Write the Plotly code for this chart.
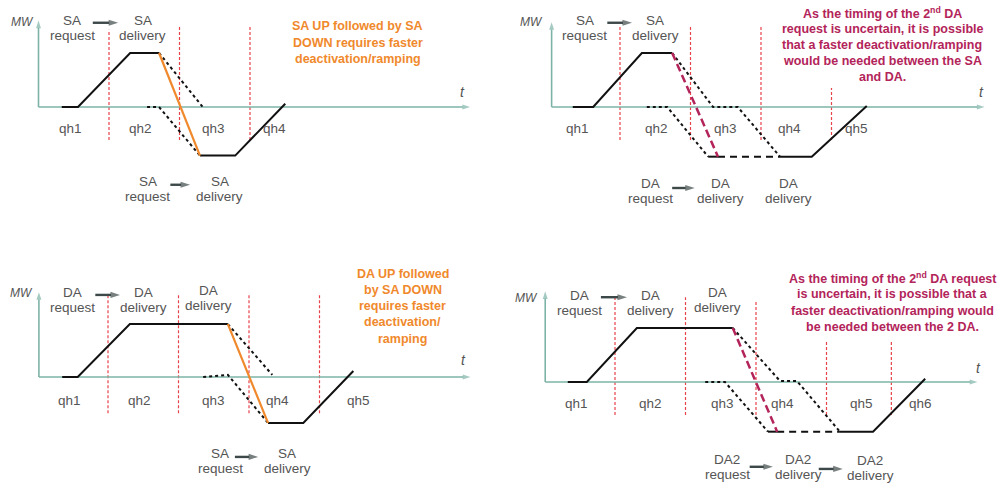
import plotly.graph_objects as go

# ======================= DATA (time in quarter-hours, power in MW units) =======================
# Panel 1 : SA UP followed by SA DOWN
p1_bounds = [1, 2, 3]
p1_bound_top = [1.43, 1.52, 1.52]
p1_bound_bot = [-0.61, -0.61, -0.61]
p1_qh = ["qh1", "qh2", "qh3", "qh4"]
p1_qh_t = [0.45, 1.44, 2.48, 3.35]
p1_solid_t = [0.33, 0.56, 1.30, 1.71]
p1_solid_mw = [0, 0, 1.0, 1.0]
p1_fast_t = [1.71, 2.29]
p1_fast_mw = [1.0, -0.9]
p1_end_t = [2.29, 2.79, 3.50]
p1_end_mw = [-0.9, -0.9, 0.06]
p1_dotA_t = [1.71, 2.33]
p1_dotA_mw = [1.0, 0.0]
p1_dotB_t = [1.54, 1.71, 2.29]
p1_dotB_mw = [0.0, 0.0, -0.9]
p1_note = ["SA UP followed by SA", "DOWN requires faster", "deactivation/ramping"]
p1_labels = [["SA", "request"], ["SA", "delivery"], ["SA", "request"], ["SA", "delivery"]]
p1_label_t = [0.48, 1.48, 1.55, 2.57]
p1_label_mw = [1.47, 1.47, -1.51, -1.51]
p1_arrow_t0 = [0.77, 1.87]
p1_arrow_t1 = [1.13, 2.15]
p1_arrow_mw = [1.56, -1.44]

# Panel 2 : SA then uncertain DA
p2_bounds = [1, 2, 3, 4]
p2_bound_top = [1.52, 1.52, 1.52, 0.35]
p2_bound_bot = [-0.61, -0.61, -0.61, -0.61]
p2_qh = ["qh1", "qh2", "qh3", "qh4", "qh5"]
p2_qh_t = [0.39, 1.52, 2.49, 3.41, 4.36]
p2_solid_t = [0.33, 0.62, 1.31, 1.74]
p2_solid_mw = [0, 0, 1.0, 1.0]
p2_fast_t = [1.74, 2.39]
p2_fast_mw = [1.0, -0.92]
p2_dotA_t = [1.74, 2.32, 2.67, 3.27]
p2_dotA_mw = [1.0, 0.0, 0.0, -0.92]
p2_dotB_t = [1.38, 1.67, 2.25]
p2_dotB_mw = [0.0, 0.0, -0.92]
p2_short_t = [2.25, 2.39]
p2_short_mw = [-0.92, -0.92]
p2_dash_t = [2.39, 3.27]
p2_dash_mw = [-0.92, -0.92]
p2_end_t = [3.27, 3.72, 4.50]
p2_end_mw = [-0.92, -0.92, 0.02]
p2_note = ["As the timing of the 2<sup>nd</sup> DA", "request is uncertain, it is possible",
           "that a faster deactivation/ramping", "would be needed between the SA", "and DA."]
p2_labels = [["SA", "request"], ["SA", "delivery"], ["DA", "request"], ["DA", "delivery"], ["DA", "delivery"]]
p2_label_t = [0.50, 1.50, 1.43, 2.42, 3.39]
p2_label_mw = [1.47, 1.47, -1.55, -1.55, -1.55]
p2_arrow_t0 = [0.82, 1.74]
p2_arrow_t1 = [1.17, 2.06]
p2_arrow_mw = [1.56, -1.50]

# Panel 3 : DA UP followed by SA DOWN
p3_bounds = [1, 2, 3, 4]
p3_bound_top = [1.52, 1.52, 1.52, 1.52]
p3_bound_bot = [-0.67, -0.67, -0.67, -0.67]
p3_qh = ["qh1", "qh2", "qh3", "qh4", "qh5"]
p3_qh_t = [0.46, 1.45, 2.49, 3.40, 4.55]
p3_solid_t = [0.35, 0.57, 1.31, 2.70]
p3_solid_mw = [0, 0, 0.98, 0.98]
p3_fast_t = [2.70, 3.27]
p3_fast_mw = [0.98, -0.85]
p3_end_t = [3.27, 3.77, 4.48]
p3_end_mw = [-0.85, -0.85, 0.11]
p3_dotA_t = [2.70, 3.33]
p3_dotA_mw = [0.98, 0.04]
p3_dotB_t = [2.35, 2.70, 3.27]
p3_dotB_mw = [0.0, 0.04, -0.85]
p3_note = ["DA UP followed", "by SA DOWN", "requires faster", "deactivation/", "ramping"]
p3_labels = [["DA", "request"], ["DA", "delivery"], ["DA", "delivery"], ["SA", "request"], ["SA", "delivery"]]
p3_label_t = [0.49, 1.50, 2.43, 2.59, 3.54]
p3_label_mw = [1.43, 1.43, 1.47, -1.55, -1.55]
p3_arrow_t0 = [0.82, 2.80]
p3_arrow_t1 = [1.17, 3.13]
p3_arrow_mw = [1.52, -1.48]

# Panel 4 : DA then uncertain 2nd DA
p4_bounds = [1, 2, 3, 4, 4.92]
p4_bound_top = [1.57, 1.57, 1.52, 0.78, 0.78]
p4_bound_bot = [-0.61, -0.61, -0.61, -0.61, -0.61]
p4_qh = ["qh1", "qh2", "qh3", "qh4", "qh5", "qh6"]
p4_qh_t = [0.46, 1.50, 2.52, 3.38, 4.50, 5.33]
p4_solid_t = [0.33, 0.60, 1.31, 2.67]
p4_solid_mw = [0, 0, 1.0, 1.0]
p4_fast_t = [2.67, 3.30]
p4_fast_mw = [1.0, -0.92]
p4_dotA_t = [2.67, 3.34, 3.58, 4.19]
p4_dotA_mw = [1.0, 0.02, 0.02, -0.92]
p4_dotB_t = [2.28, 2.56, 3.17]
p4_dotB_mw = [0.0, 0.0, -0.92]
p4_short_t = [3.17, 3.30]
p4_short_mw = [-0.92, -0.92]
p4_dash_t = [3.30, 4.19]
p4_dash_mw = [-0.92, -0.92]
p4_end_t = [4.19, 4.66, 5.40]
p4_end_mw = [-0.92, -0.92, 0.06]
p4_note = ["As the timing of the 2<sup>nd</sup> DA request", "is uncertain, it is possible that a",
           "faster deactivation/ramping would", "be needed between the 2 DA."]
p4_labels = [["DA", "request"], ["DA", "delivery"], ["DA", "delivery"],
             ["DA2", "request"], ["DA2", "delivery"], ["DA2", "delivery"]]
p4_label_t = [0.49, 1.50, 2.45, 2.59, 3.60, 4.62]
p4_label_mw = [1.47, 1.47, 1.51, -1.58, -1.58, -1.60]
p4_arrow_t0 = [0.80, 2.91, 3.89]
p4_arrow_t1 = [1.17, 3.24, 4.23]
p4_arrow_mw = [1.57, -1.57, -1.61]

# ======================= STYLE / LAYOUT =======================
W, H = 999, 484
SX, SY = 70.5, 54.0          # px per quarter-hour, px per MW unit
FONT = "Liberation Sans, Arial, Helvetica, sans-serif"
GRAY = "#555555"
TEAL = "#7db3a6"
RED = "#e8434b"
ORANGE = "#f0892c"
CRIMSON = "#b3245a"
BLACK = "#111111"
ARROWGRAY = "#3d4848"

fig = go.Figure()


def names(i):
    return ("x", "y") if i == 1 else (f"x{i}", f"y{i}")


def add_path(i, t, mw, color=BLACK, width=2, dash=None):
    xr, yr = names(i)
    fig.add_trace(go.Scatter(x=t, y=mw, xaxis=xr, yaxis=yr, mode="lines",
                             line=dict(color=color, width=width, dash=dash),
                             hoverinfo="skip", showlegend=False))


def add_text(i, t, mw, lines, size=13.5, color=GRAY, bold=False, italic=False, spacing=15.5):
    xr, yr = names(i)
    n = len(lines)
    for j, s in enumerate(lines):
        if bold:
            s = f"<b>{s}</b>"
        if italic:
            s = f"<i>{s}</i>"
        fig.add_annotation(x=t, y=mw, xref=xr, yref=yr, text=s, showarrow=False,
                           font=dict(family=FONT, size=size, color=color),
                           xanchor="center", yanchor="middle",
                           yshift=((n - 1) / 2 - j) * spacing)


def add_arrow(i, t0, t1, mw0, mw1, color, width, head):
    xr, yr = names(i)
    fig.add_trace(go.Scatter(x=[t0, t1], y=[mw0, mw1], xaxis=xr, yaxis=yr, mode="lines+markers",
                             line=dict(color=color, width=width),
                             marker=dict(symbol=["circle", "arrow"], size=[0, head],
                                         angleref="previous", color=color,
                                         line=dict(width=0)),
                             hoverinfo="skip", showlegend=False, cliponaxis=False))


panels = [
    dict(i=1, geom=(38.5, 107, 0, 499.5, 0, 242), yax_t=0.0, ytop=1.60, xend=6.12,
         mw_lab=(-0.23, 1.57), t_lab=(6.02, 0.28), qh_mw=-0.39,
         bounds=p1_bounds, btop=p1_bound_top, bbot=p1_bound_bot, qh=p1_qh, qh_t=p1_qh_t,
         note=p1_note, note_pos=(4.53, 1.19), note_col=ORANGE, note_sp=16.5,
         labels=p1_labels, lab_t=p1_label_t, lab_mw=p1_label_mw,
         ar0=p1_arrow_t0, ar1=p1_arrow_t1, ar_mw=p1_arrow_mw),
    dict(i=2, geom=(549.5, 107, 499.5, 999, 0, 242), yax_t=0.03, ytop=1.57, xend=6.17,
         mw_lab=(-0.25, 1.57), t_lab=(6.13, 0.28), qh_mw=-0.39,
         bounds=p2_bounds, btop=p2_bound_top, bbot=p2_bound_bot, qh=p2_qh, qh_t=p2_qh_t,
         note=p2_note, note_pos=(4.72, 1.15), note_col=CRIMSON, note_sp=16.0,
         labels=p2_labels, lab_t=p2_label_t, lab_mw=p2_label_mw,
         ar0=p2_arrow_t0, ar1=p2_arrow_t1, ar_mw=p2_arrow_mw),
    dict(i=3, geom=(37.5, 377, 0, 499.5, 242, 484), yax_t=0.02, ytop=1.57, xend=6.14,
         mw_lab=(-0.22, 1.56), t_lab=(6.04, 0.31), qh_mw=-0.43,
         bounds=p3_bounds, btop=p3_bound_top, bbot=p3_bound_bot, qh=p3_qh, qh_t=p3_qh_t,
         note=p3_note, note_pos=(5.18, 1.31), note_col=ORANGE, note_sp=16.2,
         labels=p3_labels, lab_t=p3_label_t, lab_mw=p3_label_mw,
         ar0=p3_arrow_t0, ar1=p3_arrow_t1, ar_mw=p3_arrow_mw),
    dict(i=4, geom=(544.5, 382, 499.5, 999, 242, 484), yax_t=0.01, ytop=1.68, xend=6.14,
         mw_lab=(-0.25, 1.56), t_lab=(6.15, 0.26), qh_mw=-0.39,
         bounds=p4_bounds, btop=p4_bound_top, bbot=p4_bound_bot, qh=p4_qh, qh_t=p4_qh_t,
         note=p4_note, note_pos=(4.94, 1.47), note_col=CRIMSON, note_sp=16.3,
         labels=p4_labels, lab_t=p4_label_t, lab_mw=p4_label_mw,
         ar0=p4_arrow_t0, ar1=p4_arrow_t1, ar_mw=p4_arrow_mw),
]

paths = {
    1: [(p1_solid_t, p1_solid_mw, BLACK, 2, None), (p1_dotA_t, p1_dotA_mw, BLACK, 2, "dot"),
        (p1_dotB_t, p1_dotB_mw, BLACK, 2, "dot"), (p1_end_t, p1_end_mw, BLACK, 2, None),
        (p1_fast_t, p1_fast_mw, ORANGE, 2.2, None)],
    2: [(p2_solid_t, p2_solid_mw, BLACK, 2, None), (p2_dotA_t, p2_dotA_mw, BLACK, 2, "dot"),
        (p2_dotB_t, p2_dotB_mw, BLACK, 2, "dot"), (p2_short_t, p2_short_mw, BLACK, 2, None),
        (p2_dash_t, p2_dash_mw, BLACK, 2, "7px,5px"), (p2_end_t, p2_end_mw, BLACK, 2, None),
        (p2_fast_t, p2_fast_mw, CRIMSON, 2.5, "8px,4px")],
    3: [(p3_solid_t, p3_solid_mw, BLACK, 2, None), (p3_dotA_t, p3_dotA_mw, BLACK, 2, "dot"),
        (p3_dotB_t, p3_dotB_mw, BLACK, 2, "dot"), (p3_end_t, p3_end_mw, BLACK, 2, None),
        (p3_fast_t, p3_fast_mw, ORANGE, 2.2, None)],
    4: [(p4_solid_t, p4_solid_mw, BLACK, 2, None), (p4_dotA_t, p4_dotA_mw, BLACK, 2, "dot"),
        (p4_dotB_t, p4_dotB_mw, BLACK, 2, "dot"), (p4_short_t, p4_short_mw, BLACK, 2, None),
        (p4_dash_t, p4_dash_mw, BLACK, 2, "7px,5px"), (p4_end_t, p4_end_mw, BLACK, 2, None),
        (p4_fast_t, p4_fast_mw, CRIMSON, 2.5, "8px,4px")],
}

layout_axes = {}
for p in panels:
    i = p["i"]
    x0, y0, L, R, T, B = p["geom"]
    xk = "xaxis" if i == 1 else f"xaxis{i}"
    yk = "yaxis" if i == 1 else f"yaxis{i}"
    xr, yr = names(i)
    layout_axes[xk] = dict(domain=[L / W, R / W], range=[(L - x0) / SX, (R - x0) / SX],
                           visible=False, fixedrange=True, anchor=yr)
    layout_axes[yk] = dict(domain=[1 - B / H, 1 - T / H], range=[(y0 - B) / SY, (y0 - T) / SY],
                           visible=False, fixedrange=True, anchor=xr)

    # red quarter-hour boundaries
    bx, by = [], []
    for b, top, bot in zip(p["bounds"], p["btop"], p["bbot"]):
        bx += [b, b, None]
        by += [bot, top, None]
    add_path(i, bx, by, RED, 1.2, "3px,2px")

    # axes with arrowheads
    add_arrow(i, p["yax_t"], p["yax_t"], 0, p["ytop"], TEAL, 1.6, 8)
    add_arrow(i, p["yax_t"], p["xend"], 0, 0, TEAL, 1.6, 8)

    # profile lines
    for t, mw, col, wd, ds in paths[i]:
        add_path(i, t, mw, col, wd, ds)

    add_text(i, p["mw_lab"][0], p["mw_lab"][1], ["MW"], size=12, color=GRAY, italic=True)
    add_text(i, p["t_lab"][0], p["t_lab"][1], ["t"], size=14, color=GRAY, italic=True)

    # quarter-hour labels
    for name, t in zip(p["qh"], p["qh_t"]):
        add_text(i, t, p["qh_mw"], [name], size=13.5)

    # request / delivery labels and arrows
    for lines, t, mw in zip(p["labels"], p["lab_t"], p["lab_mw"]):
        add_text(i, t, mw, lines, size=13.5, spacing=15.0)
    for a0, a1, mw in zip(p["ar0"], p["ar1"], p["ar_mw"]):
        add_arrow(i, a0, a1, mw, mw, ARROWGRAY, 2.4, 10)

    # highlighted note
    add_text(i, p["note_pos"][0], p["note_pos"][1], p["note"], size=12.5,
             color=p["note_col"], bold=True, spacing=p["note_sp"])

fig.update_layout(width=W, height=H, margin=dict(l=0, r=0, t=0, b=0),
                  paper_bgcolor="white", plot_bgcolor="white", showlegend=False,
                  **layout_axes)

fig.write_html("out.html", config={"displayModeBar": False, "staticPlot": True},
               post_script="document.body.style.margin='0';document.body.style.overflow='hidden';")
